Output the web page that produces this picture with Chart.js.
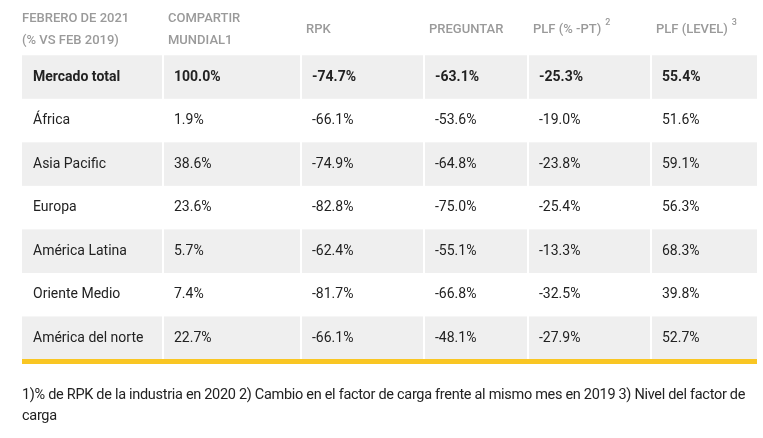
<!DOCTYPE html>
<html><head><meta charset="utf-8">
<script src="https://cdn.jsdelivr.net/npm/chart.js@4.4.1/dist/chart.umd.min.js"></script>
<style>
body{margin:0;background:#fff;font-family:Roboto,sans-serif}
#wrap{position:relative;width:763px;height:438px}
#note{position:absolute;left:22px;top:384px;width:735px;font-size:14.5px;line-height:21px;color:#222;letter-spacing:-0.3px}
</style></head><body>
<div id="wrap"><canvas id="c" width="763" height="438"></canvas>
<div id="note">1)% de RPK de la industria en 2020 2) Cambio en el factor de carga frente al mismo mes en 2019 3) Nivel del factor de carga</div></div>
<script>
var headers = [['FEBRERO DE 2021', '(% VS FEB 2019)'], ['COMPARTIR', 'MUNDIAL1'], ['RPK'], ['PREGUNTAR'], ['PLF (% -PT)'], ['PLF (LEVEL)']];
var headerSup = ['', '', '', '', '2', '3'];
var regions = ['Mercado total', 'África', 'Asia Pacific', 'Europa', 'América Latina', 'Oriente Medio', 'América del norte'];
var share = ['100.0%', '1.9%', '38.6%', '23.6%', '5.7%', '7.4%', '22.7%'];
var rpk = ['-74.7%', '-66.1%', '-74.9%', '-82.8%', '-62.4%', '-81.7%', '-66.1%'];
var ask = ['-63.1%', '-53.6%', '-64.8%', '-75.0%', '-55.1%', '-66.8%', '-48.1%'];
var plfPt = ['-25.3%', '-19.0%', '-23.8%', '-25.4%', '-13.3%', '-32.5%', '-27.9%'];
var plfLevel = ['55.4%', '51.6%', '59.1%', '56.3%', '68.3%', '39.8%', '52.7%'];
var columns = [regions, share, rpk, ask, plfPt, plfLevel];

// column boundaries on the x scale (layout, in px units of the table width)
var colEdges = [0, 141, 279, 402, 506, 629, 735];

var tablePlugin = {
  id: 'table',
  beforeDatasetsDraw: function(chart) {
    var ctx = chart.ctx, x = chart.scales.x, y = chart.scales.y;
    ctx.save();
    for (var r = 0; r < regions.length; r += 2) {
      var top = y.getPixelForValue(r), bot = y.getPixelForValue(r + 1);
      for (var c = 0; c < columns.length; c++) {
        var l = x.getPixelForValue(colEdges[c]), rr = x.getPixelForValue(colEdges[c + 1]);
        ctx.fillStyle = '#efefef';
        ctx.fillRect(l + (c ? 1 : 0), top, rr - l - (c ? 1 : 0) - (c < columns.length - 1 ? 1 : 0), bot - top);
      }
    }
    // yellow rule
    ctx.fillStyle = '#f9c623';
    var yb = y.getPixelForValue(regions.length);
    ctx.fillRect(x.getPixelForValue(0), yb - 1, x.getPixelForValue(735) - x.getPixelForValue(0), 5);
    ctx.restore();
  },
  afterDraw: function(chart) {
    var ctx = chart.ctx, x = chart.scales.x, y = chart.scales.y;
    ctx.save();
    ctx.textBaseline = 'middle';
    var hTop = y.getPixelForValue(y.min), hBot = y.getPixelForValue(0);
    var hMid = (hTop + hBot) / 2;
    ctx.font = '500 13px Roboto';
    ctx.fillStyle = '#9a9a9a';
    for (var c = 0; c < headers.length; c++) {
      var tx = x.getPixelForValue(colEdges[c]) + (c ? 5 : 0);
      var lines = headers[c];
      for (var i = 0; i < lines.length; i++) {
        var ty = lines.length === 1 ? hMid + 2 : hMid - 9 + i * 22;
        ctx.fillText(lines[i], tx, ty);
        if (headerSup[c]) {
          var w = ctx.measureText(lines[i]).width;
          ctx.font = '500 9px Roboto';
          ctx.fillText(headerSup[c], tx + w + 4, ty - 7);
          ctx.font = '500 13px Roboto';
        }
      }
    }
    ctx.fillStyle = '#222';
    for (var r = 0; r < regions.length; r++) {
      ctx.font = (r === 0 ? 'bold ' : '') + '14px Roboto';
      var cy = y.getPixelForValue(r + 0.5);
      for (var c2 = 0; c2 < columns.length; c2++) {
        ctx.fillText(columns[c2][r], x.getPixelForValue(colEdges[c2]) + 11, cy);
      }
    }
    ctx.restore();
  }
};

new Chart(document.getElementById('c'), {
  type: 'scatter',
  data: { datasets: [{ data: [] }] },
  options: {
    responsive: false,
    animation: false,
    layout: { padding: { left: 22, right: 6, top: 0, bottom: 78 } },
    plugins: { legend: { display: false }, tooltip: { enabled: false } },
    scales: {
      x: { type: 'linear', min: 0, max: 735, display: false },
      y: { type: 'linear', min: -1.27, max: regions.length, reverse: true, display: false }
    }
  },
  plugins: [tablePlugin]
});
</script></body></html>
